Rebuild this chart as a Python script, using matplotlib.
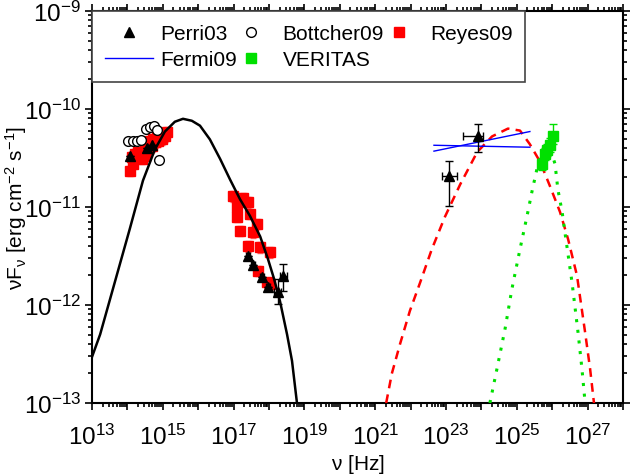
import numpy as np
import matplotlib
matplotlib.use('Agg')
import matplotlib.pyplot as plt
from matplotlib.lines import Line2D
from matplotlib.ticker import LogLocator, NullFormatter

plt.rcParams['font.family'] = ['Liberation Sans', 'DejaVu Sans']
plt.rcParams['mathtext.default'] = 'regular'
plt.rcParams['font.size'] = 15

# all values are log10(nu / Hz) and log10(nuF_nu / erg cm^-2 s^-1)

# synchrotron model (black solid)
sync_lognu = [13.00, 13.23, 13.51, 13.79, 14.07, 14.44, 14.78, 15.06, 15.34, 15.57, 15.82,
              16.05, 16.33, 16.62, 16.90, 17.18, 17.46, 17.75, 17.97, 18.14, 18.31, 18.51,
              18.65, 18.79]
sync_logf = [-12.53, -12.30, -11.94, -11.58, -11.22, -10.73, -10.41, -10.23, -10.13, -10.10,
             -10.12, -10.17, -10.31, -10.51, -10.72, -10.92, -11.09, -11.30, -11.53, -11.73,
             -11.96, -12.30, -12.57, -13.00]

# SSC model (red dashed)
ssc_lognu = [21.31, 21.47, 21.70, 21.98, 22.27, 22.60, 22.97, 23.40, 23.88, 24.30, 24.75,
             25.09, 25.37, 25.66, 25.94, 26.22, 26.45, 26.70, 26.93, 27.07, 27.18]
ssc_logf = [-13.00, -12.70, -12.40, -12.06, -11.77, -11.43, -11.10, -10.77, -10.44, -10.28,
            -10.20, -10.22, -10.36, -10.54, -10.79, -11.05, -11.33, -11.70, -12.28, -12.65,
            -13.00]

# VERITAS model (green dotted)
vmod_lognu = [24.24, 24.44, 24.67, 24.86, 25.09, 25.29, 25.43, 25.57, 25.71, 25.85, 25.99,
              26.08, 26.16, 26.28, 26.36, 26.56, 26.73, 26.84, 26.93]
vmod_logf = [-13.00, -12.65, -12.24, -11.84, -11.43, -11.09, -10.84, -10.61, -10.46, -10.39,
             -10.46, -10.56, -10.82, -11.05, -11.26, -11.77, -12.28, -12.65, -13.00]

# Fermi09 bow-tie
fermi_lognu = [22.66, 25.37]
fermi_a_logf = [-10.43, -10.23]
fermi_b_logf = [-10.37, -10.39]

# Perri03
perri_lognu = [14.07, 14.55, 14.69, 17.41, 17.55, 17.80, 17.97, 18.25, 18.40, 23.08, 23.90]
perri_logf = [-10.48, -10.40, -10.37, -11.50, -11.59, -11.71, -11.82, -11.87, -11.70,
              -10.68, -10.28]
perri_logf_lo = [-10.48, -10.40, -10.37, -11.50, -11.59, -11.71, -11.82, -11.99, -11.86,
                 -10.99, -10.44]
perri_logf_hi = [-10.48, -10.40, -10.37, -11.50, -11.59, -11.71, -11.82, -11.73, -11.58,
                 -10.53, -10.15]
perri_lognu_lo = [14.07, 14.55, 14.69, 17.35, 17.49, 17.74, 17.91, 18.15, 18.30, 22.89, 23.48]
perri_lognu_hi = [14.07, 14.55, 14.69, 17.47, 17.61, 17.86, 18.03, 18.35, 18.50, 23.31, 24.05]

# Bottcher09
bott_lognu = [14.02, 14.16, 14.27, 14.38, 14.53, 14.64, 14.75, 14.84, 14.89]
bott_logf = [-10.33, -10.33, -10.33, -10.32, -10.20, -10.18, -10.17, -10.21, -10.52]

# Reyes09
reyes_lognu = [14.07, 14.16, 14.13, 14.27, 14.41, 14.50, 14.58, 14.69, 14.78, 14.86, 14.98,
               15.06, 15.12, 14.64, 14.72, 14.84, 14.92, 14.50, 14.30, 14.21,
               16.98, 17.27, 17.10, 17.41, 17.10, 17.46, 17.66, 17.18, 17.55, 17.41, 17.75,
               18.03, 17.69, 17.94, 18.03]
reyes_logf = [-10.63, -10.56, -10.49, -10.49, -10.51, -10.48, -10.41, -10.38, -10.34, -10.33,
              -10.31, -10.28, -10.23, -10.33, -10.31, -10.28, -10.26, -10.43, -10.44, -10.46,
              -10.89, -10.91, -11.00, -10.95, -11.10, -11.07, -11.17, -11.24, -11.26, -11.40,
              -11.41, -11.46, -11.65, -11.77, -11.79]
reyes_rel_err = 0.12
reyes_nu_rel_err = 0.15

# VERITAS
ver_lognu = [26.02, 25.94, 25.85, 25.80, 25.71]
ver_logf = [-10.28, -10.37, -10.42, -10.46, -10.56]
ver_logf_hi = [-10.15, -10.30, -10.36, -10.40, -10.50]
ver_logf_lo = [-10.36, -10.44, -10.48, -10.52, -10.62]


def p(a):
    return np.power(10.0, np.asarray(a))


fig = plt.figure(figsize=(6.32, 4.77), dpi=100)
ax = fig.add_axes([92 / 632, 1 - 404 / 477, 531 / 632, 392 / 477])

ax.plot(p(sync_lognu), p(sync_logf), color='black', lw=1.8, zorder=4)
ax.plot(p(ssc_lognu), p(ssc_logf), color='red', lw=1.8, dashes=(3.5, 2.5), zorder=4)
ax.plot(p(vmod_lognu), p(vmod_logf), color='#00e000', lw=2.2, dashes=(1, 2.5), zorder=4)
ax.plot(p(fermi_lognu), p(fermi_a_logf), color='blue', lw=1, zorder=4)
ax.plot(p(fermi_lognu), p(fermi_b_logf), color='blue', lw=1, zorder=4)

# Reyes09
rf = p(reyes_logf)
rn = p(reyes_lognu)
ax.errorbar(rn, rf, yerr=rf * reyes_rel_err, xerr=rn * reyes_nu_rel_err, fmt='s',
            color='red', ms=6.5, ecolor='#ff6060', elinewidth=0.8, capsize=2, zorder=3)

# Bottcher09
ax.plot(p(bott_lognu), p(bott_logf), 'o', mfc='white', mec='black', ms=7, mew=1, zorder=5)

# Perri03
pf = p(perri_logf)
pn = p(perri_lognu)
ax.errorbar(pn, pf,
            yerr=[pf - p(perri_logf_lo), p(perri_logf_hi) - pf],
            xerr=[pn - p(perri_lognu_lo), p(perri_lognu_hi) - pn],
            fmt='^', color='black', ms=7.5, elinewidth=1, capsize=3, zorder=6)

# VERITAS
vf = p(ver_logf)
ax.errorbar(p(ver_lognu), vf, yerr=[vf - p(ver_logf_lo), p(ver_logf_hi) - vf],
            fmt='s', color='#00e000', ms=6.5, elinewidth=1, capsize=3, zorder=6)

ax.set_xscale('log')
ax.set_yscale('log')
ax.set_xlim(1e13, 1e28)
ax.set_ylim(1e-13, 1e-9)

xt = np.arange(13, 29)
ax.set_xticks(p(xt))
ax.set_xticklabels([r'$10^{%d}$' % e if e % 2 == 1 else '' for e in xt])
ax.xaxis.set_minor_locator(LogLocator(base=10, subs=np.arange(2, 10), numticks=60))
ax.xaxis.set_minor_formatter(NullFormatter())
yt = np.arange(-13, -8)
ax.set_yticks(p(yt))
ax.set_yticklabels([r'$10^{%d}$' % e for e in yt])
ax.yaxis.set_minor_locator(LogLocator(base=10, subs=np.arange(2, 10), numticks=60))
ax.yaxis.set_minor_formatter(NullFormatter())

ax.tick_params(which='both', direction='out', top=True, right=True, width=1.2)
ax.tick_params(which='major', length=5, labelsize=17.5)
ax.tick_params(axis='x', which='major', pad=10)
ax.tick_params(axis='y', which='major', pad=3)
ax.tick_params(which='minor', length=3)
for s in ax.spines.values():
    s.set_linewidth(1.5)

ax.set_xlabel(r'$\nu$ [Hz]', fontsize=15)
ax.xaxis.set_label_coords(0.5, -0.125)
ax.set_ylabel(r'$\nu F_{\nu}$ [erg cm$^{-2}$ s$^{-1}$]', fontsize=15)
ax.yaxis.set_label_coords(-0.118, 0.5)

handles = [
    Line2D([], [], ls='none', marker='^', color='black', ms=7.5),
    Line2D([], [], color='blue', lw=1),
    Line2D([], [], ls='none', marker='o', mfc='white', mec='black', ms=7),
    Line2D([], [], ls='none', marker='s', color='#00e000', ms=6.5),
    Line2D([], [], ls='none', marker='s', color='red', ms=6.5),
]
labels = ['Perri03', 'Fermi09', 'Bottcher09', 'VERITAS', 'Reyes09']
leg = ax.legend(handles, labels, ncol=3, loc='upper left', bbox_to_anchor=(0, 1),
                borderaxespad=0, fancybox=False, framealpha=1, edgecolor='#444444',
                fontsize=15, handlelength=2.3, handletextpad=0.35, columnspacing=-0.45,
                labelspacing=0.35, borderpad=0.62, numpoints=1)
leg.get_frame().set_linewidth(1.2)

fig.savefig('out.png', dpi=100)
